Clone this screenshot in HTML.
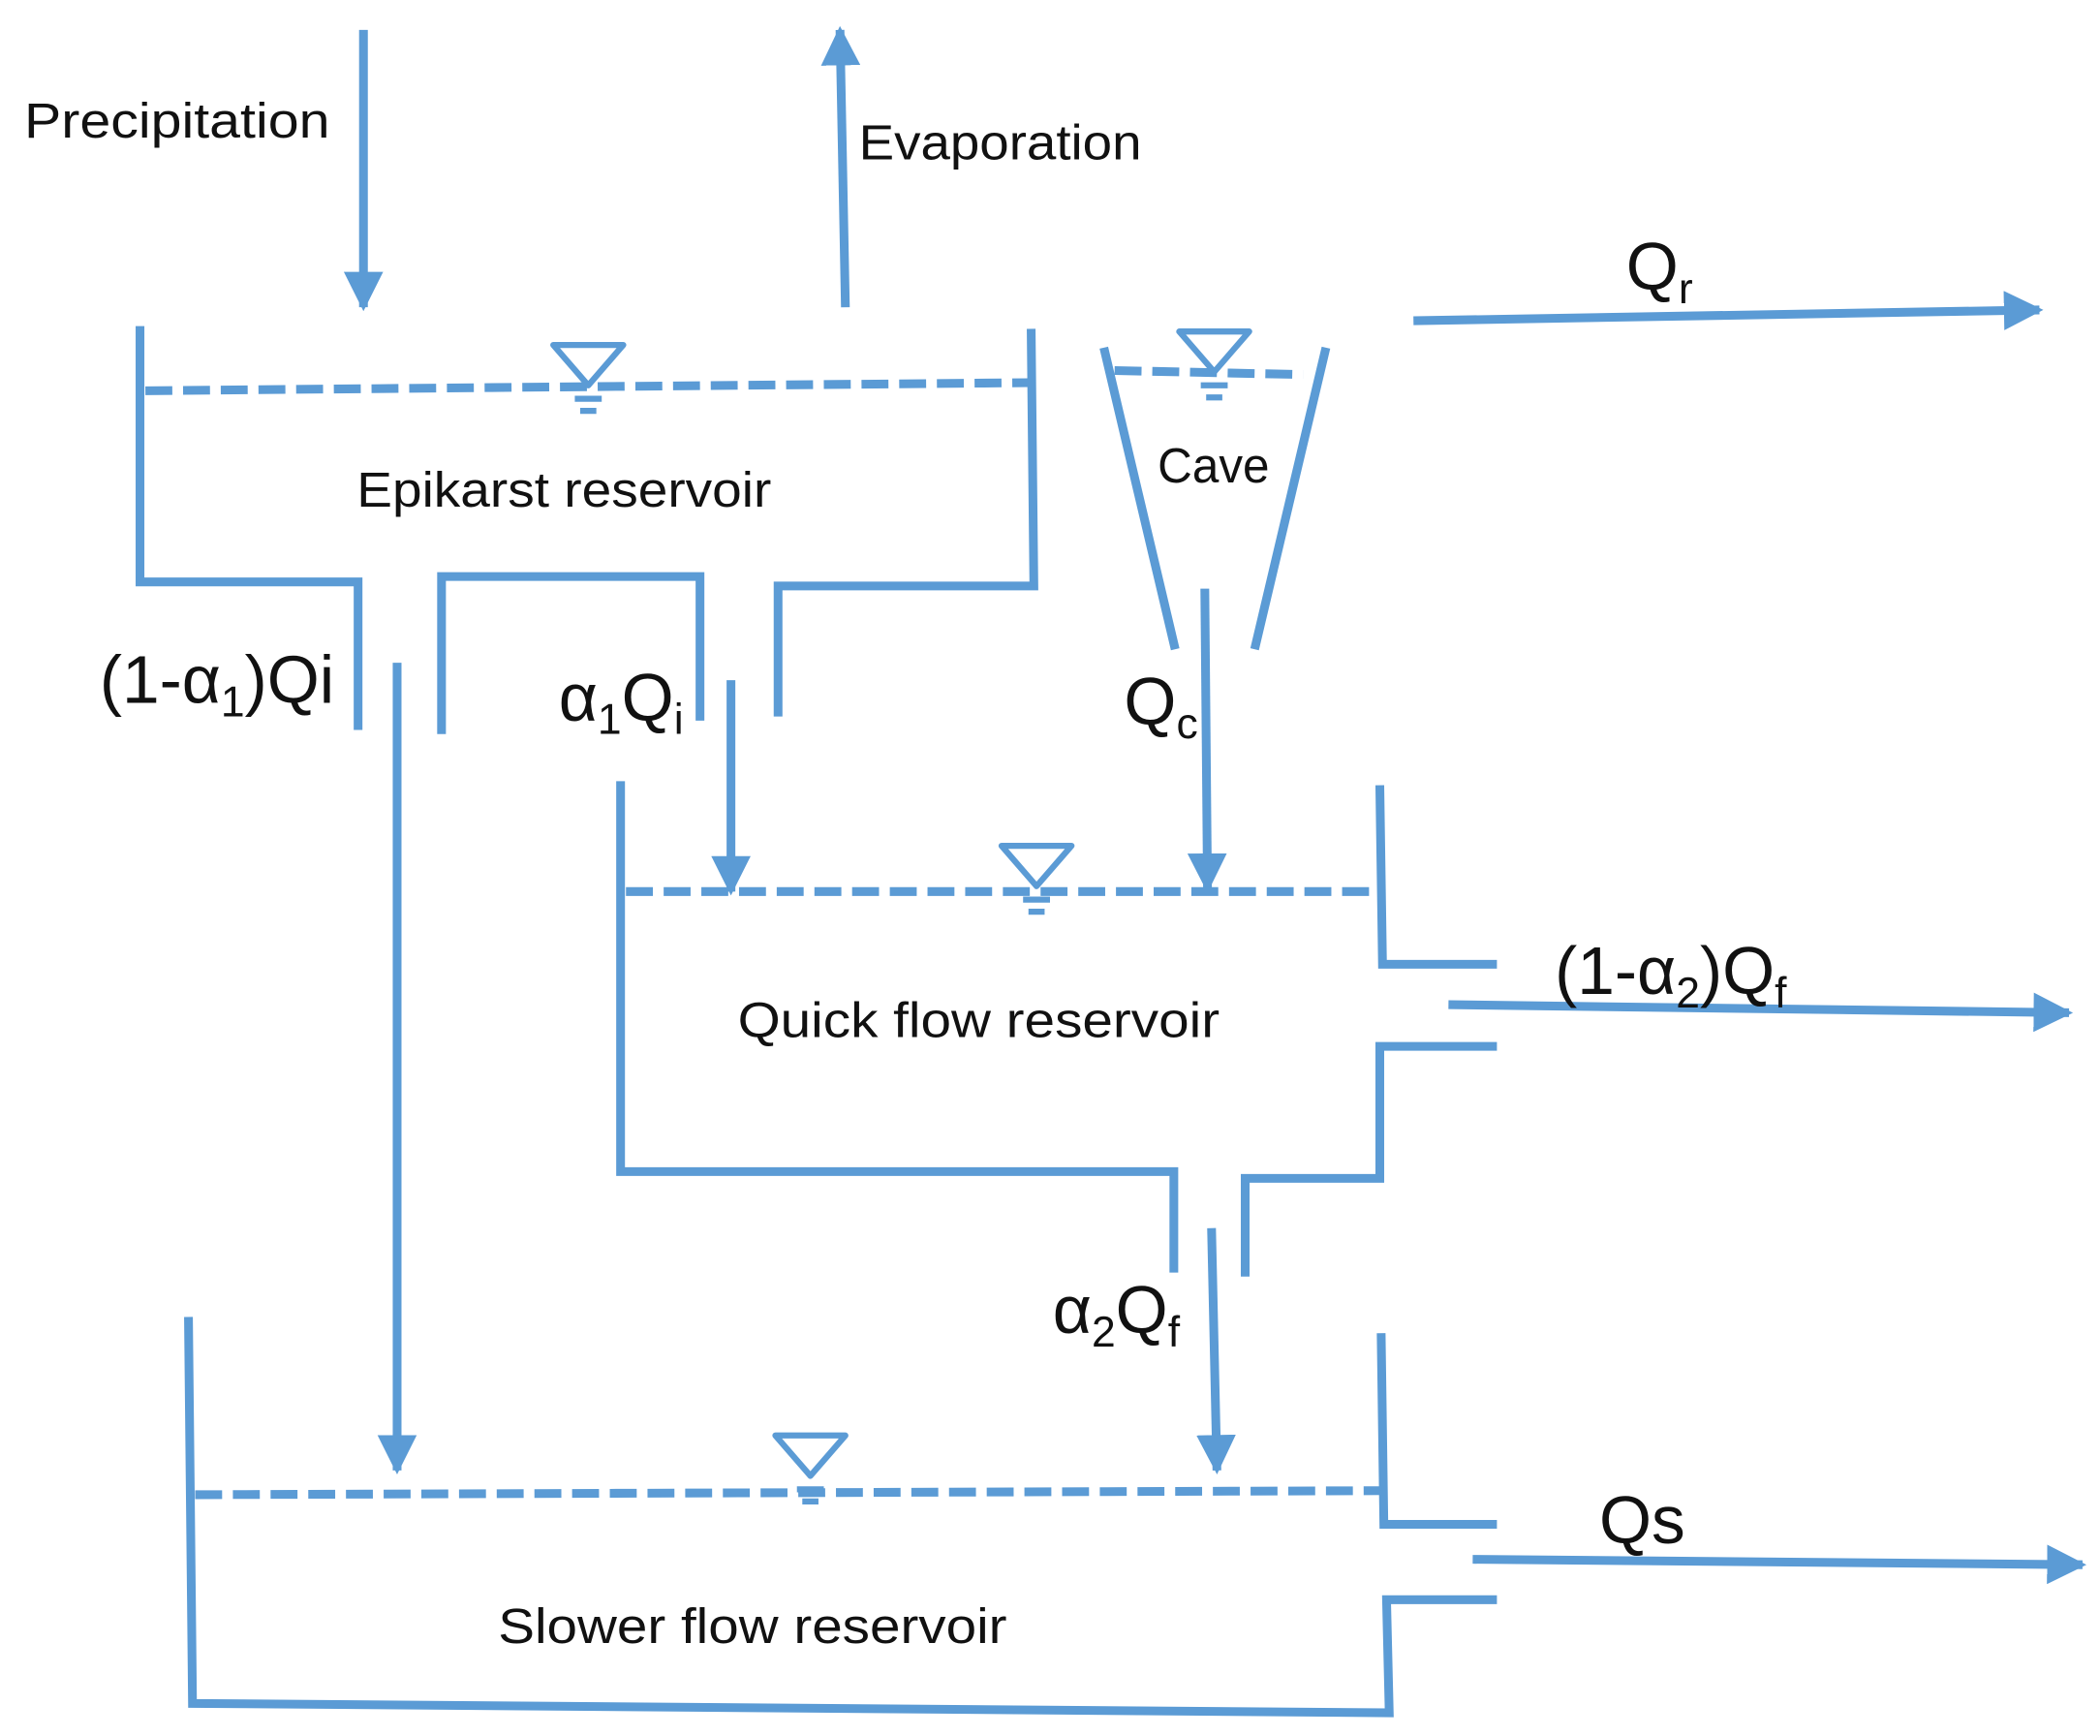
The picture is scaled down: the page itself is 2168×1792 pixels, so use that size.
<!DOCTYPE html>
<html><head><meta charset="utf-8"><style>
html,body{margin:0;padding:0;background:#fff;}
svg{display:block}
text{font-family:"Liberation Sans",sans-serif;fill:#111;}
</style></head><body>
<svg width="2168" height="1792" viewBox="0 0 1560 1289" xmlns="http://www.w3.org/2000/svg">
<defs>
<marker id="ah" viewBox="0 0 10 10" refX="9" refY="5" markerWidth="4.5" markerHeight="4.5" markerUnits="strokeWidth" orient="auto">
<path d="M0,0 L10,5 L0,10 z" fill="#5b9bd5"/>
</marker>
<g id="sym">
<path d="M-26,0 L26,0 L0,30 Z" fill="none" stroke="#5b9bd5" stroke-width="4.5" stroke-linejoin="round"/>
<line x1="-10" y1="40" x2="10" y2="40" stroke="#5b9bd5" stroke-width="4.5"/>
<line x1="-6" y1="49" x2="6" y2="49" stroke="#5b9bd5" stroke-width="4.5"/>
</g>
</defs>
<g fill="none" stroke="#5b9bd5" stroke-width="6.5">
<line x1="270" y1="22" x2="270" y2="228" marker-end="url(#ah)"/>
<line x1="628" y1="228" x2="624" y2="22" marker-end="url(#ah)"/>
<polyline points="104,242 104,432 266,432 266,542"/>
<polyline points="328,545 328,428 520,428 520,535"/>
<polyline points="578,532 578,435 768,435 766,244"/>
<line x1="108" y1="290" x2="766" y2="284" stroke-dasharray="20,8"/>
<line x1="295" y1="492" x2="295" y2="1092" marker-end="url(#ah)"/>
<line x1="543" y1="505" x2="543" y2="662" marker-end="url(#ah)"/>
<line x1="820" y1="258" x2="873" y2="482"/>
<line x1="985" y1="258" x2="932" y2="482"/>
<line x1="828" y1="275" x2="968" y2="278" stroke-dasharray="20,8"/>
<line x1="895" y1="437" x2="897" y2="660" marker-end="url(#ah)"/>
<line x1="1050" y1="238" x2="1515" y2="230" marker-end="url(#ah)"/>
<polyline points="461,580 461,870 872,870 872,945"/>
<polyline points="925,948 925,875 1025,875 1025,777 1112,777"/>
<polyline points="1025,583 1027,716 1112,716"/>
<line x1="465" y1="662" x2="1025" y2="662" stroke-dasharray="20,8"/>
<line x1="1076" y1="746" x2="1537" y2="752" marker-end="url(#ah)"/>
<line x1="900" y1="912" x2="904" y2="1092" marker-end="url(#ah)"/>
<polyline points="140,978 143,1265 1032,1272 1030,1188 1112,1188"/>
<polyline points="1026,990 1028,1132 1112,1132"/>
<line x1="145" y1="1110" x2="1026" y2="1107" stroke-dasharray="20,8"/>
<line x1="1094" y1="1158" x2="1547" y2="1162" marker-end="url(#ah)"/>
</g>
<use href="#sym" x="437" y="256"/>
<use href="#sym" x="902" y="246"/>
<use href="#sym" x="770" y="628"/>
<use href="#sym" x="602" y="1066"/>
<g font-size="37">
<text x="18" y="102" textLength="227" lengthAdjust="spacingAndGlyphs">Precipitation</text>
<text x="638" y="118" textLength="210" lengthAdjust="spacingAndGlyphs">Evaporation</text>
<text x="265" y="376" textLength="308" lengthAdjust="spacingAndGlyphs">Epikarst reservoir</text>
<text x="860" y="358" textLength="83" lengthAdjust="spacingAndGlyphs">Cave</text>
<text x="548" y="770" textLength="358" lengthAdjust="spacingAndGlyphs">Quick flow reservoir</text>
<text x="370" y="1220" textLength="378" lengthAdjust="spacingAndGlyphs">Slower flow reservoir</text>
</g>
<g font-size="50">
<text x="74" y="522">(1-α<tspan font-size="32" dy="10">1</tspan><tspan dy="-10">)Qi</tspan></text>
<text x="415" y="535">α<tspan font-size="32" dy="10">1</tspan><tspan dy="-10">Q</tspan><tspan font-size="32" dy="10">i</tspan></text>
<text x="835" y="538">Q<tspan font-size="32" dy="10">c</tspan></text>
<text x="1208" y="215">Q<tspan font-size="32" dy="10">r</tspan></text>
<text x="1155" y="738">(1-α<tspan font-size="32" dy="10">2</tspan><tspan dy="-10">)Q</tspan><tspan font-size="32" dy="10">f</tspan></text>
<text x="782" y="990">α<tspan font-size="32" dy="10">2</tspan><tspan dy="-10">Q</tspan><tspan font-size="32" dy="10">f</tspan></text>
<text x="1188" y="1146">Qs</text>
</g>
</svg>
</body></html>
